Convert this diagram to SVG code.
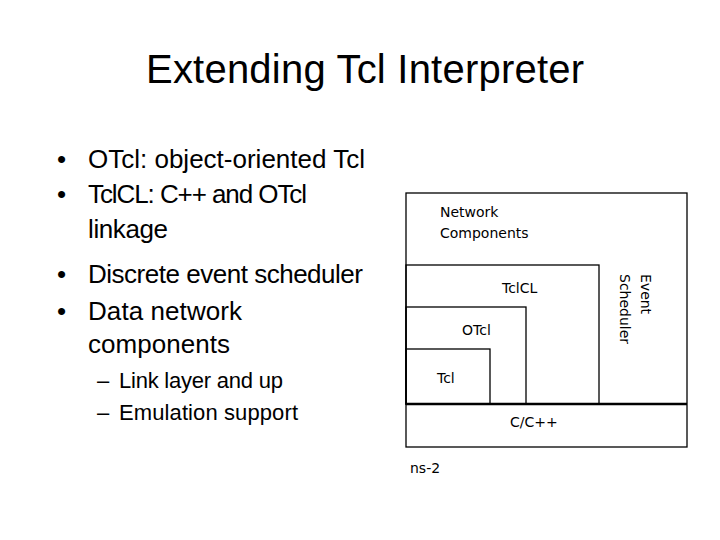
<svg xmlns="http://www.w3.org/2000/svg" width="720" height="540" viewBox="0 0 720 540">
<style>
.title{font-family:"Liberation Sans",Arial,sans-serif;font-size:40px;fill:#000}
.b{font-family:"Liberation Sans",Arial,sans-serif;font-size:26px;fill:#000}
.s{font-family:"Liberation Sans",Arial,sans-serif;font-size:22px;fill:#000}
.lbl{font-family:"DejaVu Sans",Verdana,sans-serif;font-size:14px;fill:#000}
.box{fill:none;stroke:#000;stroke-width:1.3}
</style>
<rect width="720" height="540" fill="#fff"/>
<text class="title" x="146" y="83" textLength="438">Extending Tcl Interpreter</text>
<g id="bullets">
<text class="b" x="57" y="168">•</text>
<text class="b" x="88" y="168" textLength="277">OTcl: object-oriented Tcl</text>
<text class="b" x="57" y="203">•</text>
<text class="b" x="88" y="203" textLength="219">TclCL: C++ and OTcl</text>
<text class="b" x="88" y="238" textLength="80">linkage</text>
<text class="b" x="57" y="283">•</text>
<text class="b" x="88" y="283" textLength="275">Discrete event scheduler</text>
<text class="b" x="57" y="320">•</text>
<text class="b" x="88" y="320" textLength="154">Data network</text>
<text class="b" x="88" y="353" textLength="142">components</text>
<text class="s" x="97" y="388">–</text>
<text class="s" x="119" y="388" textLength="164">Link layer and up</text>
<text class="s" x="97" y="420">–</text>
<text class="s" x="119" y="420" textLength="179">Emulation support</text>
</g>
<g id="ns2">
<rect class="box" x="406" y="193" width="281" height="254"/>
<text class="lbl" x="440" y="217">Network</text>
<text class="lbl" x="440" y="238">Components</text>
</g>
<g id="event-scheduler">
<text class="lbl" transform="translate(641,274) rotate(90)">Event</text>
<text class="lbl" transform="translate(620,274) rotate(90)">Scheduler</text>
</g>
<g id="tclcl">
<rect class="box" x="406" y="265" width="193" height="139"/>
<text class="lbl" x="502" y="293">TclCL</text>
</g>
<g id="otcl">
<rect class="box" x="406" y="307" width="120" height="97"/>
<text class="lbl" x="462" y="335">OTcl</text>
</g>
<g id="tcl">
<rect class="box" x="406" y="349" width="84" height="55"/>
<text class="lbl" x="437" y="383">Tcl</text>
</g>
<g id="ccpp">
<line x1="406" y1="404" x2="687" y2="404" stroke="#000" stroke-width="2.5"/>
<text class="lbl" x="510" y="427">C/C++</text>
</g>
<g id="ns2-label">
<text class="lbl" x="410" y="473">ns-2</text>
</g>
<g id="connectors"/>
</svg>
